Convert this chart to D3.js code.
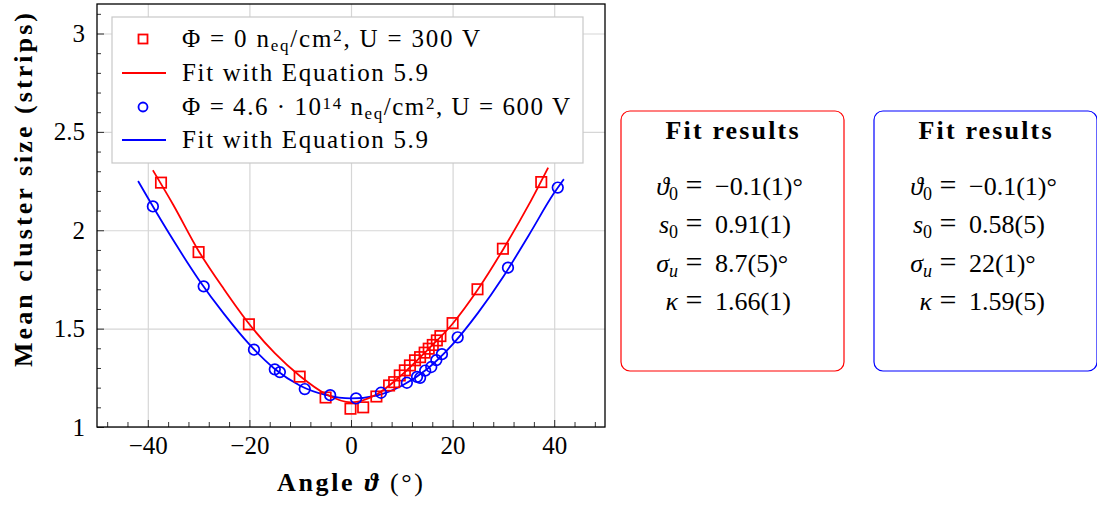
<!DOCTYPE html>
<html>
<head>
<meta charset="utf-8">
<script src="https://cdn.jsdelivr.net/npm/d3@7"></script>
<style>
  body { margin: 0; background: #fff; }
  svg { font-family: "Liberation Serif", "DejaVu Serif", serif; }
</style>
</head>
<body>
<svg id="chart" width="1097" height="507"></svg>
<script>
// measured points, unirradiated sensor (300 V)
const redAngles = [-37.4, -30.0, -20.1, -10.1, -5.0, -0.1, 2.4, 5.0, 7.5, 8.5, 9.6, 10.6, 11.6, 12.6, 13.6, 14.5, 15.3, 16.1, 16.9, 17.6, 20.0, 24.9, 29.9, 37.45];
const redSizes = [2.242, 1.889, 1.522, 1.256, 1.150, 1.093, 1.100, 1.155, 1.211, 1.228, 1.262, 1.288, 1.313, 1.339, 1.355, 1.378, 1.398, 1.417, 1.440, 1.462, 1.528, 1.700, 1.906, 2.245];

// measured points, irradiated sensor (600 V)
const blueAngles = [-39.0, -29.0, -19.1, -15.0, -14.0, -9.1, -4.1, 1.0, 5.9, 11.0, 13.0, 13.6, 14.6, 15.8, 16.8, 17.9, 21.0, 30.9, 40.7];
const blueSizes = [2.121, 1.715, 1.393, 1.293, 1.279, 1.193, 1.162, 1.145, 1.174, 1.225, 1.255, 1.250, 1.287, 1.305, 1.340, 1.370, 1.456, 1.810, 2.217];

// fit curves
const redFitAngles = [-39.0, -35, -30, -25, -20, -15, -10, -5, 0, 5, 10, 15, 20, 25, 30, 35, 38.8];
const redFitSizes = [2.305, 2.13, 1.895, 1.70, 1.522, 1.375, 1.258, 1.168, 1.125, 1.165, 1.265, 1.39, 1.525, 1.70, 1.905, 2.13, 2.318];
const blueFitAngles = [-41.9, -40, -35, -30, -25, -20, -15, -10, -5, 0, 5, 10, 15, 20, 25, 30, 35, 40, 41.9];
const blueFitSizes = [2.25, 2.165, 1.95, 1.75, 1.575, 1.42, 1.295, 1.21, 1.163, 1.145, 1.16, 1.21, 1.295, 1.42, 1.58, 1.765, 1.975, 2.19, 2.26];

const xTicks = [-40, -20, 0, 20, 40];
const yTicks = [1, 1.5, 2, 2.5, 3];

const redFit = [
  ['ϑ', '0', '−0.1(1)°'],
  ['s', '0', '0.91(1)'],
  ['σ', 'u', '8.7(5)°'],
  ['κ', '', '1.66(1)']
];
const blueFit = [
  ['ϑ', '0', '−0.1(1)°'],
  ['s', '0', '0.58(5)'],
  ['σ', 'u', '22(1)°'],
  ['κ', '', '1.59(5)']
];

const RED = '#ff0000', BLUE = '#0000ff';

const svg = d3.select('#chart');
const plotLeft = 97, plotRight = 605, plotTop = 4, plotBottom = 427;
const width = plotRight - plotLeft, height = plotBottom - plotTop;

const x = d3.scaleLinear().domain([-50, 50]).range([0, width]);
const y = d3.scaleLinear().domain([1, 3.15]).range([height, 0]);

const g = svg.append('g').attr('transform', `translate(${plotLeft},${plotTop})`);

g.append('clipPath').attr('id', 'clip')
  .append('rect').attr('width', width).attr('height', height);

// grid
g.append('g')
  .attr('transform', `translate(0,${height})`)
  .call(d3.axisBottom(x).tickValues(xTicks).tickSize(-height).tickFormat(''))
  .call(a => a.select('.domain').remove())
  .selectAll('line').attr('stroke', '#d6d6d6').attr('stroke-width', 1.2);
g.append('g')
  .call(d3.axisLeft(y).tickValues(yTicks).tickSize(-width).tickFormat(''))
  .call(a => a.select('.domain').remove())
  .selectAll('line').attr('stroke', '#d6d6d6').attr('stroke-width', 1.2);

// minor ticks
const xMinor = d3.range(-48, 49, 4).filter(v => v % 20 !== 0);
const yMinor = d3.range(11, 32).map(v => v / 10).filter(v => Math.round(v * 10) % 5 !== 0);
g.append('g')
  .attr('transform', `translate(0,${height})`)
  .call(d3.axisBottom(x).tickValues(xMinor).tickSize(-5).tickFormat(''))
  .call(a => a.select('.domain').remove())
  .selectAll('line').attr('stroke', '#000').attr('stroke-width', 0.8);
g.append('g')
  .call(d3.axisLeft(y).tickValues(yMinor).tickSize(-4).tickFormat(''))
  .call(a => a.select('.domain').remove())
  .selectAll('line').attr('stroke', '#000').attr('stroke-width', 0.8);

// major ticks + labels
const xAxis = g.append('g')
  .attr('transform', `translate(0,${height})`)
  .call(d3.axisBottom(x).tickValues(xTicks).tickSize(-7).tickPadding(9).tickFormat(d3.format('d')));
xAxis.select('.domain').remove();
xAxis.selectAll('line').attr('stroke', '#000').attr('stroke-width', 0.8);
xAxis.selectAll('text')
  .attr('fill', '#000')
  .style('font-size', '25px')
  .style('font-family', '"Liberation Serif", serif');

const yAxis = g.append('g')
  .call(d3.axisLeft(y).tickValues(yTicks).tickSize(-7).tickPadding(12).tickFormat(d3.format('')));
yAxis.select('.domain').remove();
yAxis.selectAll('line').attr('stroke', '#000').attr('stroke-width', 0.8);
yAxis.selectAll('text')
  .attr('fill', '#000')
  .style('font-size', '25px')
  .style('font-family', '"Liberation Serif", serif');

// frame
g.append('rect')
  .attr('width', width).attr('height', height)
  .attr('fill', 'none').attr('stroke', '#000').attr('stroke-width', 1.3);

// fit lines
const line = d3.line()
  .x(d => x(d[0]))
  .y(d => y(d[1]))
  .curve(d3.curveMonotoneX);

const plot = g.append('g').attr('clip-path', 'url(#clip)');

plot.append('path')
  .datum(blueFitAngles.map((a, i) => [a, blueFitSizes[i]]))
  .attr('fill', 'none').attr('stroke', BLUE).attr('stroke-width', 1.8)
  .attr('d', line);
plot.append('path')
  .datum(redFitAngles.map((a, i) => [a, redFitSizes[i]]))
  .attr('fill', 'none').attr('stroke', RED).attr('stroke-width', 1.8)
  .attr('d', line);

// markers
plot.selectAll('.sq')
  .data(redAngles.map((a, i) => [a, redSizes[i]]))
  .enter().append('rect')
  .attr('class', 'sq')
  .attr('x', d => x(d[0]) - 5.2)
  .attr('y', d => y(d[1]) - 5.2)
  .attr('width', 10.4).attr('height', 10.4)
  .attr('fill', 'none').attr('stroke', RED).attr('stroke-width', 1.7);

plot.selectAll('.ci')
  .data(blueAngles.map((a, i) => [a, blueSizes[i]]))
  .enter().append('circle')
  .attr('class', 'ci')
  .attr('cx', d => x(d[0]))
  .attr('cy', d => y(d[1]))
  .attr('r', 5.3)
  .attr('fill', 'none').attr('stroke', BLUE).attr('stroke-width', 1.7);

// legend
const legend = svg.append('g').style('font-size', '25px');
legend.append('rect')
  .attr('x', 112).attr('y', 17).attr('width', 471).attr('height', 146)
  .attr('fill', '#fff').attr('stroke', '#c8c8c8').attr('stroke-width', 1.2);

const rows = [39, 73, 107, 140];
legend.append('rect')
  .attr('x', 143 - 4.5).attr('y', rows[0] - 4.5).attr('width', 9).attr('height', 9)
  .attr('fill', 'none').attr('stroke', RED).attr('stroke-width', 1.8);
legend.append('line')
  .attr('x1', 122).attr('x2', 166).attr('y1', rows[1]).attr('y2', rows[1])
  .attr('stroke', RED).attr('stroke-width', 1.8);
legend.append('circle')
  .attr('cx', 143).attr('cy', rows[2]).attr('r', 4.5)
  .attr('fill', 'none').attr('stroke', BLUE).attr('stroke-width', 1.8);
legend.append('line')
  .attr('x1', 122).attr('x2', 166).attr('y1', rows[3]).attr('y2', rows[3])
  .attr('stroke', BLUE).attr('stroke-width', 1.8);

function fluence(t, pre) {
  t.append('tspan').text(pre + ' n');
  t.append('tspan').attr('baseline-shift', '-25%').style('font-size', '17px').text('eq');
  t.append('tspan').text('/cm');
  t.append('tspan').attr('baseline-shift', '38%').style('font-size', '17px').text('2');
}

let t = legend.append('text').attr('x', 182).attr('y', rows[0] + 8)
  .attr('textLength', 298).attr('lengthAdjust', 'spacing');
fluence(t, 'Φ = 0');
t.append('tspan').text(', U = 300 V');

legend.append('text').attr('x', 182).attr('y', rows[1] + 8)
  .attr('textLength', 246).attr('lengthAdjust', 'spacing')
  .text('Fit with Equation 5.9');

t = legend.append('text').attr('x', 182).attr('y', rows[2] + 8)
  .attr('textLength', 388).attr('lengthAdjust', 'spacing');
t.append('tspan').text('Φ = 4.6 · 10');
t.append('tspan').attr('baseline-shift', '38%').style('font-size', '17px').text('14');
fluence(t, '');
t.append('tspan').text(', U = 600 V');

legend.append('text').attr('x', 182).attr('y', rows[3] + 8)
  .attr('textLength', 246).attr('lengthAdjust', 'spacing')
  .text('Fit with Equation 5.9');

// axis labels
svg.append('text')
  .attr('x', 350).attr('y', 491)
  .attr('text-anchor', 'middle')
  .attr('textLength', 146).attr('lengthAdjust', 'spacing')
  .style('font-size', '26px').style('font-weight', 'bold')
  .call(s => {
    s.append('tspan').text('Angle ');
    s.append('tspan').style('font-style', 'italic').text('ϑ');
    s.append('tspan').style('font-weight', 'normal').text(' (°)');
  });

svg.append('text')
  .attr('transform', 'translate(32,190) rotate(-90)')
  .attr('text-anchor', 'middle')
  .attr('textLength', 354).attr('lengthAdjust', 'spacing')
  .style('font-size', '26px').style('font-weight', 'bold')
  .text('Mean cluster size (strips)');

// fit result boxes
function fitBox(x0, colour, eqX, rowsData) {
  const b = svg.append('g').style('font-size', '26px');
  b.append('rect')
    .attr('x', x0).attr('y', 111).attr('width', 223).attr('height', 260)
    .attr('rx', 9).attr('ry', 9)
    .attr('fill', 'none').attr('stroke', colour).attr('stroke-width', 1.2);
  b.append('text')
    .attr('x', x0 + 111).attr('y', 139)
    .attr('text-anchor', 'middle').style('font-weight', 'bold')
    .attr('textLength', 133).attr('lengthAdjust', 'spacing')
    .text('Fit results');
  rowsData.forEach((r, i) => {
    const base = 195 + i * 38.3;
    const lhs = b.append('text').attr('x', eqX - 5).attr('y', base).attr('text-anchor', 'end');
    lhs.append('tspan').style('font-style', 'italic').text(r[0]);
    if (r[1]) {
      lhs.append('tspan').attr('baseline-shift', '-25%').style('font-size', '18px')
        .style('font-style', r[1] === 'u' ? 'italic' : 'normal').text(r[1]);
    }
    b.append('text').attr('x', eqX + 11).attr('y', base).attr('text-anchor', 'middle')
      .style('font-size', '30px').text('=');
    b.append('text').attr('x', eqX + 32).attr('y', base).text(r[2]);
  });
}
fitBox(621, RED, 683, redFit);
fitBox(874, BLUE, 937, blueFit);
</script>
</body>
</html>
